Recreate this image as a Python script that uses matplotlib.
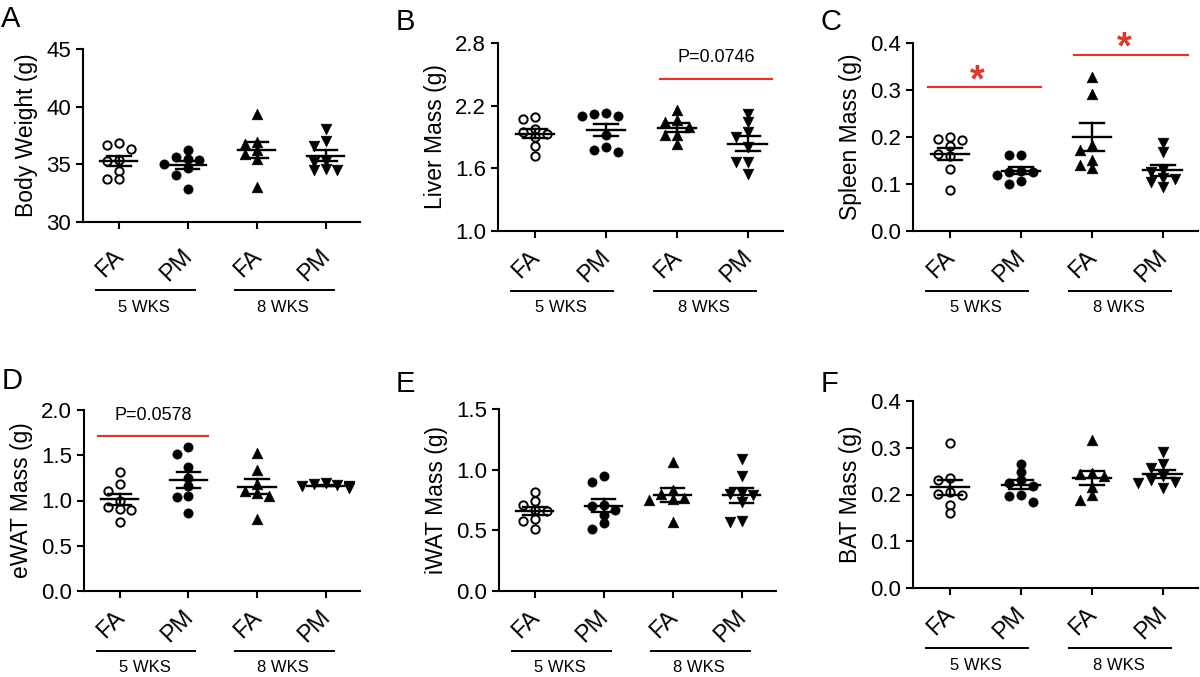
import numpy as np
import matplotlib
matplotlib.use('Agg')
import matplotlib.pyplot as plt
from matplotlib import transforms

plt.rcParams['font.family'] = ['Liberation Sans', 'DejaVu Sans']

groups = ['FA', 'PM', 'FA', 'PM']
weeks = ['5 WKS', '8 WKS']

# values per group: FA 5wk, PM 5wk, FA 8wk, PM 8wk
body_weight = [[36.83, 36.64, 36.37, 35.40, 35.27, 34.45, 33.77, 33.77],
               [36.20, 35.60, 35.50, 35.40, 35.00, 34.70, 34.10, 32.90],
               [39.40, 36.90, 36.80, 36.20, 35.90, 35.50, 33.00],
               [38.10, 37.00, 36.60, 35.30, 35.20, 34.60, 34.50, 34.50]]
liver = [[2.09, 2.07, 1.98, 1.95, 1.93, 1.90, 1.81, 1.72],
         [2.13, 2.12, 2.10, 2.10, 1.92, 1.80, 1.78, 1.76],
         [2.16, 2.06, 2.04, 2.00, 1.92, 1.92, 1.83],
         [2.12, 2.04, 1.95, 1.90, 1.80, 1.66, 1.66, 1.55]]
spleen = [[0.199, 0.195, 0.193, 0.180, 0.164, 0.160, 0.131, 0.088],
          [0.162, 0.161, 0.127, 0.126, 0.125, 0.120, 0.107, 0.100],
          [0.327, 0.291, 0.183, 0.172, 0.151, 0.133, 0.140],
          [0.187, 0.168, 0.130, 0.125, 0.112, 0.110, 0.105, 0.094]]
ewat = [[1.32, 1.18, 1.10, 1.00, 0.93, 0.91, 0.90, 0.76],
        [1.59, 1.51, 1.37, 1.25, 1.16, 1.05, 1.04, 0.86],
        [1.53, 1.34, 1.18, 1.10, 1.08, 1.05, 0.80],
        [1.19, 1.18, 1.17, 1.16, 1.16, 1.15, 1.14, 1.15]]
iwat = [[0.82, 0.74, 0.71, 0.67, 0.66, 0.59, 0.58, 0.51],
        [0.95, 0.90, 0.71, 0.70, 0.67, 0.63, 0.56, 0.51],
        [1.06, 0.83, 0.80, 0.77, 0.76, 0.75, 0.57],
        [1.09, 0.95, 0.81, 0.80, 0.79, 0.73, 0.58, 0.57]]
bat = [[0.311, 0.235, 0.230, 0.205, 0.202, 0.200, 0.178, 0.160],
       [0.266, 0.249, 0.230, 0.225, 0.218, 0.199, 0.197, 0.183],
       [0.316, 0.245, 0.243, 0.240, 0.217, 0.199, 0.188],
       [0.290, 0.266, 0.256, 0.240, 0.230, 0.227, 0.225, 0.213]]

ylabels = ['Body Weight (g)', 'Liver Mass (g)', 'Spleen Mass (g)',
           'eWAT Mass (g)', 'iWAT Mass (g)', 'BAT Mass (g)']
letters = ['A', 'B', 'C', 'D', 'E', 'F']
yticks = [[30, 35, 40, 45], [1.0, 1.6, 2.2, 2.8], [0.0, 0.1, 0.2, 0.3, 0.4],
          [0.0, 0.5, 1.0, 1.5, 2.0], [0.0, 0.5, 1.0, 1.5], [0.0, 0.1, 0.2, 0.3, 0.4]]
yfmt = ['{:.0f}', '{:.1f}', '{:.1f}', '{:.1f}', '{:.1f}', '{:.1f}']

# significance bars: (x0, x1, y, label, label_y)
sig = {1: [(1.76, 3.35, 2.46, 'P=0.0746', 2.66)],
       2: [(-0.31, 1.29, 0.306, '*', 0.339), (1.75, 3.36, 0.375, '*', 0.41)],
       3: [(-0.32, 1.29, 1.716, 'P=0.0578', 1.94)]}

RED = '#d93a2b'
W, H = 1200, 677
# axes boxes in pixels: left, right, top, bottom
boxes = [(83, 360, 49, 222), (498, 783, 43, 231), (913, 1198, 43, 231),
         (84, 360, 410, 591), (499, 776, 409, 591), (913, 1198, 401, 588)]
extra = [8, 0, 0, 0, 0, 0]
letter_pos = [(1, 27), (396, 30), (821, 30), (2, 389), (396, 392), (821, 392)]

markers = [dict(marker='o', facecolor='white', s=36, lw=1.4),
           dict(marker='o', facecolor='black', s=44, lw=0.5),
           dict(marker='^', facecolor='black', s=58, lw=0.5),
           dict(marker='v', facecolor='black', s=58, lw=0.5)]


def swarm(vals, span, dx=0.17):
    vals = np.asarray(vals)
    xs = np.zeros(len(vals))
    placed = []
    for i in np.argsort(vals)[::-1]:
        for off in [0, -dx, dx, -2 * dx, 2 * dx]:
            if all(not (abs(off - px) < dx * 0.9 and abs(vals[i] - py) < span * 0.042)
                   for px, py in placed):
                break
        xs[i] = off
        placed.append((off, vals[i]))
    return xs


fig = plt.figure(figsize=(12, 6.77), dpi=100)
datasets = [body_weight, liver, spleen, ewat, iwat, bat]

for k, data in enumerate(datasets):
    l, r, t, b = boxes[k]
    ax = fig.add_axes([l / W, 1 - b / H, (r - l) / W, (b - t) / H])
    ax.set_xlim(-0.52, 3.5)
    ax.set_ylim(yticks[k][0], yticks[k][-1])
    span = yticks[k][-1] - yticks[k][0]
    for g, vals in enumerate(data):
        xs = g + swarm(vals, span)
        m = markers[g]
        ax.scatter(xs, vals, marker=m['marker'], s=m['s'], facecolor=m['facecolor'],
                   edgecolor='black', linewidth=m['lw'], zorder=3, clip_on=False)
        mean = np.mean(vals)
        sem = np.std(vals, ddof=1) / np.sqrt(len(vals))
        ax.plot([g - 0.27, g + 0.27], [mean, mean], color='black', lw=1.7, zorder=4)
        ax.plot([g - 0.17, g + 0.17], [mean + sem] * 2, color='black', lw=1.7, zorder=4)
        ax.plot([g - 0.17, g + 0.17], [mean - sem] * 2, color='black', lw=1.7, zorder=4)
        ax.plot([g, g], [mean - sem, mean + sem], color='black', lw=1.7, zorder=4)

    for sp in ['top', 'right']:
        ax.spines[sp].set_visible(False)
    for sp in ['left', 'bottom']:
        ax.spines[sp].set_linewidth(1.5)
    ax.set_yticks(yticks[k])
    ax.set_yticklabels([yfmt[k].format(v) for v in yticks[k]], fontsize=16)
    ax.set_xticks(range(4))
    ax.set_xticklabels(groups, fontsize=17, rotation=45, ha='right')
    ax.tick_params(axis='both', width=1.5, length=5, direction='out')
    ax.tick_params(axis='x', pad=6 + extra[k] * 0.72)
    shift = transforms.ScaledTranslation(9 / 100, 0, fig.dpi_scale_trans)
    for lab in ax.get_xticklabels():
        lab.set_transform(lab.get_transform() + shift)
    ax.set_ylabel(ylabels[k], fontsize=16.5, labelpad=6)

    # group underlines and labels
    def below(px):
        return transforms.offset_copy(ax.get_xaxis_transform(), fig=fig, x=0,
                                      y=-(px + extra[k]), units='dots')
    for (x0, x1), xc, wk in zip([(-0.33, 1.1), (1.68, 3.12)], [0.36, 2.38], weeks):
        ax.plot([x0, x1], [0, 0], transform=below(60), color='black', lw=1.4,
                clip_on=False)
        ax.text(xc, 0, wk, transform=below(77), ha='center', va='center', fontsize=12)

    for x0, x1, y, txt, ty in sig.get(k, []):
        ax.plot([x0, x1], [y, y], color=RED, lw=1.6, clip_on=False, zorder=2)
        if txt == '*':
            tr = transforms.offset_copy(ax.transData, fig=fig, x=0, y=-20, units='dots')
            ax.text((x0 + x1) / 2 - 0.1, ty, '*', color=RED, fontsize=27,
                    fontweight='bold', ha='center', va='baseline', transform=tr)
        else:
            ax.text((x0 + x1) / 2, ty, txt, ha='center', va='center', fontsize=13)

    lx, ly = letter_pos[k]
    fig.text(lx / W, 1 - ly / H, letters[k], fontsize=21, ha='left', va='baseline')

fig.savefig('out.png', dpi=100)
